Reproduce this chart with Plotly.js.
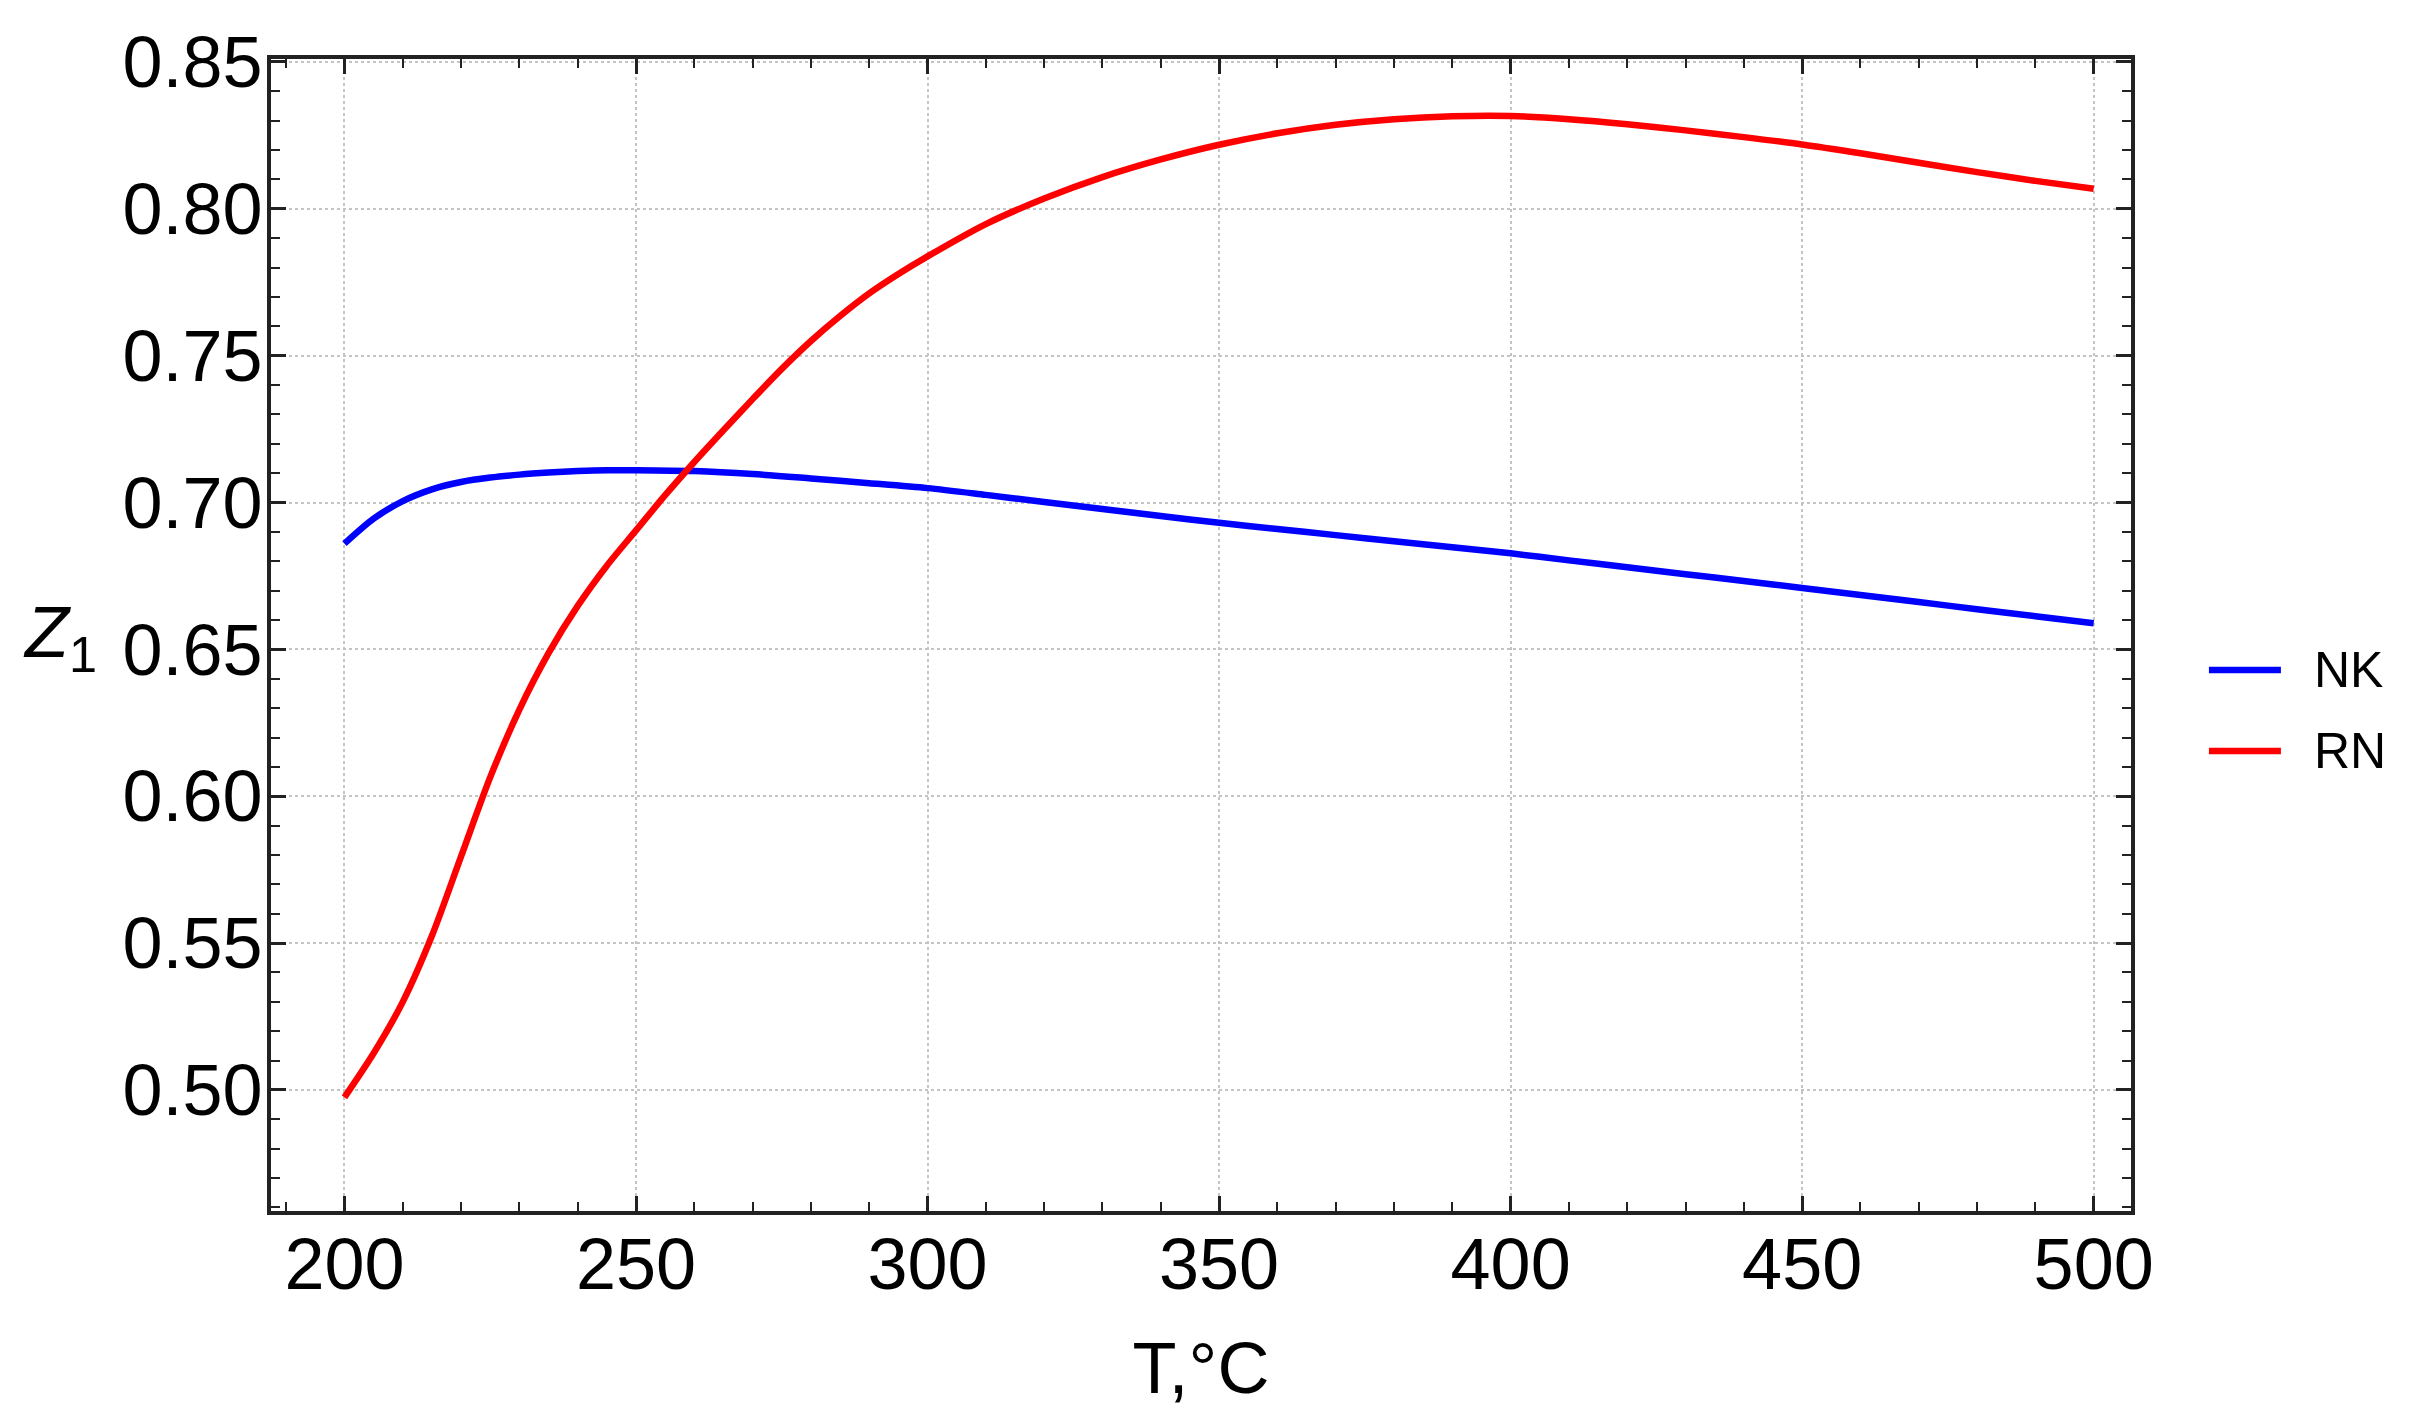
<!DOCTYPE html>
<html>
<head>
<meta charset="utf-8">
<script src="https://cdn.plot.ly/plotly-3.0.1.min.js"></script>
<style>
  body { margin: 0; background: #fff; }
  #chart { width: 2422px; height: 1422px; }
</style>
</head>
<body>
<div id="chart"></div>
<script>
// values
var tempNK = [200, 205, 210, 215, 220, 225, 230, 235, 240, 245, 250, 260, 270, 280, 290, 300, 310, 320, 330, 340, 350,
              360, 370, 380, 390, 400, 410, 420, 430, 440, 450, 460, 470, 480, 490, 500];
var zNK = [0.686, 0.6945, 0.7005, 0.7045, 0.707, 0.7085, 0.7095, 0.7102, 0.7107, 0.711, 0.711, 0.7107, 0.7097, 0.7082,
           0.7066, 0.7049, 0.7026, 0.7002, 0.6978, 0.6954, 0.6931, 0.691, 0.6889, 0.6868, 0.6848, 0.6827, 0.6803, 0.678,
           0.6756, 0.6733, 0.6709, 0.6685, 0.6661, 0.6637, 0.6613, 0.6589];

var tempRN = [200, 205, 210, 215, 220, 225, 230, 235, 240, 245, 250, 255, 260, 265, 270, 275, 280, 285, 290, 295, 300,
              310, 320, 330, 340, 350, 360, 370, 380, 390, 400, 410, 420, 430, 440, 450, 460, 470, 480, 490, 500];
var zRN = [0.4975, 0.5125, 0.530, 0.5525, 0.5795, 0.6065, 0.6295, 0.6487, 0.6648, 0.6785, 0.6905, 0.7025, 0.7138,
           0.7246, 0.7352, 0.7455, 0.755, 0.7635, 0.7712, 0.7778, 0.7838, 0.7948, 0.8035, 0.8108, 0.8168, 0.8218,
           0.8257, 0.8286, 0.8305, 0.8315, 0.8316, 0.8305, 0.8288, 0.8267, 0.8244, 0.8219, 0.8189, 0.8157, 0.8125,
           0.8095, 0.8068];

var seriesNames = ["NK", "RN"];
var seriesColors = ["#0000ff", "#ff0000"];
var FONT = "Liberation Sans, Arial, Helvetica, sans-serif";
var frameColor = "#222";

var traces = [{
    x: tempNK,
    y: zNK,
    name: seriesNames[0],
    mode: "lines",
    line: {color: seriesColors[0], width: 6.5, shape: "spline", smoothing: 0.8}
}, {
    x: tempRN,
    y: zRN,
    name: seriesNames[1],
    mode: "lines",
    line: {color: seriesColors[1], width: 6.5, shape: "spline", smoothing: 0.8}
}];

function frameAxis(extra) {
    var ax = {
        showline: true,
        linecolor: frameColor,
        linewidth: 4,
        mirror: "ticks",
        ticks: "inside",
        ticklen: 15,
        tickwidth: 3,
        tickcolor: frameColor,
        showgrid: true,
        gridcolor: "#c4c4c4",
        gridwidth: 2,
        griddash: "dot",
        zeroline: false,
        tickfont: {family: FONT, size: 72, color: "#000"}
    };
    for (var k in extra) ax[k] = extra[k];
    return ax;
}

// legend drawn by hand so the sample lines are as long as in the picture
var legendRows = [0.4696, 0.3993];
var shapes = [];
var annotations = [];
for (var i = 0; i < seriesNames.length; i++) {
    shapes.push({
        type: "line", xref: "paper", yref: "paper",
        x0: 1.0419, x1: 1.0806, y0: legendRows[i], y1: legendRows[i],
        line: {color: seriesColors[i], width: 6.5}
    });
    annotations.push({
        text: seriesNames[i], xref: "paper", yref: "paper",
        x: 1.0975, y: legendRows[i], xanchor: "left", yanchor: "middle",
        showarrow: false,
        font: {family: FONT, size: 50, color: "#000"}
    });
}
annotations.push({
    text: "<i>Z</i><sub>1</sub>",
    xref: "paper", yref: "paper",
    x: -0.1134, y: 0.498,
    xanchor: "center", yanchor: "middle",
    showarrow: false,
    font: {family: FONT, size: 72, color: "#000"}
});

var layout = {
    width: 2422,
    height: 1422,
    margin: {l: 271, r: 291, t: 59, b: 211, pad: 0},
    paper_bgcolor: "#fff",
    plot_bgcolor: "#fff",
    font: {family: FONT, color: "#000"},
    showlegend: false,
    xaxis: frameAxis({
        range: [187.4, 506.4],
        tick0: 200,
        dtick: 50,
        ticklabelstandoff: -12,
        minor: {dtick: 10, tick0: 200, ticks: "inside", ticklen: 9, tickwidth: 2, tickcolor: frameColor, showgrid: false},
        title: {text: "T,°C", font: {family: FONT, size: 72, color: "#000"}, standoff: 40}
    }),
    yaxis: frameAxis({
        range: [0.4588, 0.851],
        tick0: 0.5,
        dtick: 0.05,
        tickformat: ".2f",
        ticklabelstandoff: -10,
        minor: {dtick: 0.01, tick0: 0.5, ticks: "inside", ticklen: 9, tickwidth: 2, tickcolor: frameColor, showgrid: false}
    }),
    shapes: shapes,
    annotations: annotations
};

Plotly.newPlot(document.getElementById("chart"), traces, layout, {displayModeBar: false, staticPlot: true});
</script>
</body>
</html>
